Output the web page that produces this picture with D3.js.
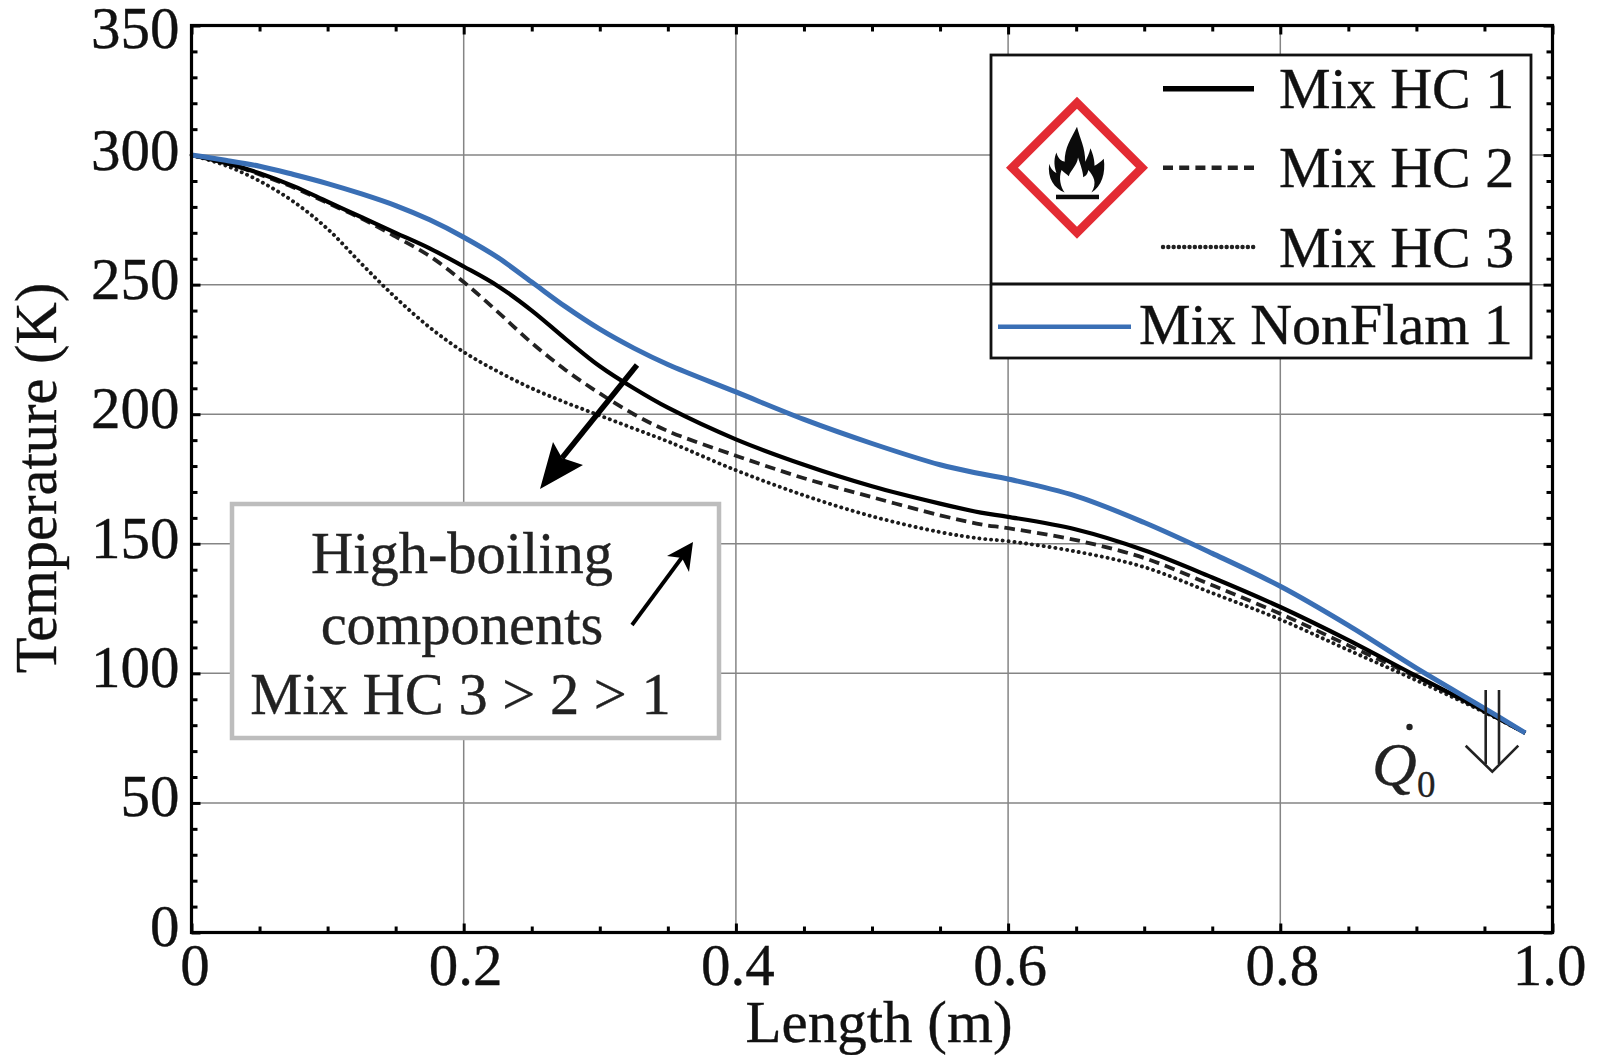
<!DOCTYPE html>
<html>
<head>
<meta charset="utf-8">
<script src="https://cdn.jsdelivr.net/npm/d3@7"></script>
<style>
html, body { margin: 0; padding: 0; background: #fff; }
svg { display: block; }
text { font-family: "Liberation Serif", serif; fill: #111; stroke: #111; stroke-width: 0.35; }
</style>
</head>
<body>
<div id="chart"></div>
<script>
var lengths = [0, 0.025, 0.05, 0.075, 0.1, 0.125, 0.15, 0.175, 0.2, 0.225, 0.25, 0.275, 0.3, 0.325, 0.35, 0.4, 0.45, 0.5, 0.55, 0.58, 0.6, 0.65, 0.7, 0.75, 0.8, 0.85, 0.9, 0.95, 0.98];
var mixHc1 =   [300, 297, 293, 288, 282, 276, 270, 264, 257, 249.5, 240, 229, 218.5, 210, 202.5, 190.3, 180.5, 172.2, 165.5, 162, 160.4, 155.5, 147.5, 137, 125.6, 112.8, 99, 85.5, 77];
var mixHc2 =   [300, 297, 292.5, 287.5, 281.5, 275.5, 268.5, 261, 251, 239.5, 227.5, 217, 208, 200, 193.5, 184, 175.3, 168, 161, 157.5, 156, 151.4, 144.5, 134, 123, 110.8, 98.6, 85.3, 77];
var mixHc3 =   [300, 296, 290, 282, 271.5, 258, 245, 233.5, 224, 216.5, 210, 204.5, 199.5, 194.5, 189.5, 178.4, 168.7, 160.6, 154.5, 152, 151, 147, 141, 131, 120.8, 109, 97.3, 85, 77];
var nonFlam1 = [300, 298, 295.7, 292.5, 289, 285, 280.5, 275, 268.3, 260.5, 251, 241.4, 232.8, 225.5, 219.2, 208.6, 198, 188.7, 180.5, 177, 175, 168.4, 158.2, 146.3, 133.6, 118.5, 102, 86.5, 77];

var xTicks = [0, 0.2, 0.4, 0.6, 0.8, 1.0];
var xTickLabels = ['0', '0.2', '0.4', '0.6', '0.8', '1.0'];
var xMinorTicks = d3.range(0, 1.0001, 0.05);
var yTicks = [0, 50, 100, 150, 200, 250, 300, 350];
var yMinorTicks = d3.range(0, 351, 10);
var noteLines = ['High-boiling', 'components', 'Mix HC 3 > 2 > 1'];
var legendNames = ['Mix HC 1', 'Mix HC 2', 'Mix HC 3'];

var width = 1597, height = 1055;
var left = 191.5, right = 1552.5, top_ = 25.5, bottom = 932.5;

var svg = d3.select('#chart').append('svg')
	.attr('width', width).attr('height', height);

var x = d3.scaleLinear().domain([0, 1]).range([left, right]);
var y = d3.scaleLinear().domain([0, 350]).range([bottom, top_]);
// the tick labels do not sit exactly on their ticks in the reference
var yLabel = d3.scaleLinear().domain([0, 300, 350]).range([925.5, 149.5, 28]);

function isMajor(list, d){
	return list.some(function(m){ return Math.abs(m - d) < 1e-6; });
}

// grid
var grid = svg.append('g').attr('stroke', '#858585').attr('stroke-width', 1.5);
grid.selectAll('.gx').data(xTicks.slice(1, -1)).enter().append('line')
	.attr('x1', function(d){ return x(d); }).attr('x2', function(d){ return x(d); })
	.attr('y1', top_).attr('y2', bottom);
grid.selectAll('.gy').data(yTicks.slice(1, -1)).enter().append('line')
	.attr('y1', function(d){ return y(d); }).attr('y2', function(d){ return y(d); })
	.attr('x1', left).attr('x2', right);

// ticks point inward on all four sides
function drawTicks(axis, translate, major, minor, attr, sign){
	var g = svg.append('g').attr('transform', 'translate(' + translate + ')');
	g.call(axis.tickValues(minor).tickFormat(''));
	g.select('.domain').remove();
	g.selectAll('.tick line')
		.attr('stroke', '#000').attr('stroke-width', 3)
		.attr(attr, function(d){ return sign * (isMajor(major, d) ? 9 : 6); });
}
drawTicks(d3.axisBottom(x), [0, bottom], xTicks, xMinorTicks, 'y2', -1);
drawTicks(d3.axisTop(x), [0, top_], xTicks, xMinorTicks, 'y2', 1);
drawTicks(d3.axisLeft(y), [left, 0], yTicks, yMinorTicks, 'x2', 1);
drawTicks(d3.axisRight(y), [right, 0], yTicks, yMinorTicks, 'x2', -1);

// curves
var line = d3.line()
	.x(function(d){ return x(d[0]); })
	.y(function(d){ return y(d[1]); })
	.curve(d3.curveCatmullRom.alpha(0.5));
function pts(vals){ return lengths.map(function(l, i){ return [l, vals[i]]; }); }
var seriesStyles = [
	{ vals: mixHc3, color: '#1c1c1c', w: 3.9, dash: '0.1 5.8', cap: 'round' },
	{ vals: mixHc2, color: '#222', w: 3.8, dash: '10.5 6', cap: 'butt' },
	{ vals: mixHc1, color: '#000', w: 4.2, dash: null, cap: 'butt' },
	{ vals: nonFlam1, color: '#3a6fb5', w: 5, dash: null, cap: 'butt' }
];
seriesStyles.forEach(function(s){
	svg.append('path')
		.attr('d', line(pts(s.vals)))
		.attr('fill', 'none')
		.attr('stroke', s.color)
		.attr('stroke-width', s.w)
		.attr('stroke-linecap', s.cap)
		.attr('stroke-dasharray', s.dash);
});

// frame
svg.append('rect')
	.attr('x', left).attr('y', top_)
	.attr('width', right - left).attr('height', bottom - top_)
	.attr('fill', 'none').attr('stroke', '#000').attr('stroke-width', 3.2);

// tick labels
svg.selectAll('.xl').data(xTicks).enter().append('text')
	.attr('x', function(d, i){ return x(d) + (i == 0 ? 3.5 : (i == 5 ? -3 : 2)); })
	.attr('y', 985)
	.attr('text-anchor', 'middle')
	.attr('font-size', 59)
	.text(function(d, i){ return xTickLabels[i]; });
svg.selectAll('.yl').data(yTicks).enter().append('text')
	.attr('x', 179.5)
	.attr('y', function(d){ return yLabel(d) + 20; })
	.attr('text-anchor', 'end')
	.attr('font-size', 59)
	.text(function(d){ return d; });

// axis titles
svg.append('text').attr('x', 879).attr('y', 1042)
	.attr('text-anchor', 'middle').attr('font-size', 59)
	.text('Length (m)');
svg.append('text')
	.attr('transform', 'translate(56,478) rotate(-90)')
	.attr('text-anchor', 'middle').attr('font-size', 58.5)
	.text('Temperature (K)');

// legend
var legend = svg.append('g');
legend.append('rect')
	.attr('x', 991).attr('y', 55).attr('width', 540).attr('height', 303)
	.attr('fill', '#fff').attr('stroke', '#111').attr('stroke-width', 2.8);
legend.append('line')
	.attr('x1', 991).attr('x2', 1531).attr('y1', 284).attr('y2', 284)
	.attr('stroke', '#111').attr('stroke-width', 2.8);
var legendY = [88.7, 167.7, 247];
var legendWidths = [5.5, 4.6, 4.4];
var legendDashes = [null, '10 6.2', '0.1 5.2'];
var legendCaps = ['butt', 'butt', 'round'];
legendNames.forEach(function(name, i){
	legend.append('line')
		.attr('x1', 1163).attr('x2', 1254)
		.attr('y1', legendY[i]).attr('y2', legendY[i])
		.attr('stroke', i == 0 ? '#000' : '#222')
		.attr('stroke-width', legendWidths[i])
		.attr('stroke-linecap', legendCaps[i])
		.attr('stroke-dasharray', legendDashes[i]);
	legend.append('text')
		.attr('x', 1279).attr('y', legendY[i] + 19.5)
		.attr('font-size', 58)
		.text(name);
});
legend.append('line')
	.attr('x1', 998).attr('x2', 1131).attr('y1', 326.7).attr('y2', 326.7)
	.attr('stroke', '#3a6fb5').attr('stroke-width', 4.4);
legend.append('text').attr('x', 1139).attr('y', 344)
	.attr('font-size', 58).text('Mix NonFlam 1');

// flammable pictogram
var pict = legend.append('g').attr('transform', 'translate(1077,167.7)');
pict.append('path')
	.attr('d', 'M0,-65 L65,0 L0,65 L-65,0 Z')
	.attr('fill', '#fff').attr('stroke', '#e32b33').attr('stroke-width', 8.5);
pict.append('path')
	.attr('transform', 'translate(0,-41) scale(1.03)')
	.attr('fill', '#0b0b0b')
	.attr('d', 'M-12,64 C-22,60 -29,50 -27,36 C-25,42 -22,44 -20,45 C-23,36 -22,30 -20,25 C-18,32 -15,33 -12,34 C-12,20 -6,12 0,0 C3,12 8,20 8,34 C10,30 12,26 13,21 C16,28 17,33 17,38 C20,36 23,34 26,31 C28,45 24,58 14,64 C20,54 16,48 11,42 C10,47 8,48 6,49 C6,44 3,36 1,30 C0,38 -6,42 -8,48 C-10,46 -12,45 -15,42 C-18,50 -16,58 -12,64 Z');
pict.append('rect').attr('x', -21).attr('y', 27).attr('width', 43).attr('height', 4.5).attr('fill', '#0b0b0b');

// note box
var note = svg.append('g');
note.append('rect')
	.attr('x', 232).attr('y', 504).attr('width', 487).attr('height', 234)
	.attr('fill', '#fff').attr('stroke', '#bdbdbd').attr('stroke-width', 4.5);
var noteX = [462, 462, 460.5], noteY = [573, 644, 714];
noteLines.forEach(function(t, i){
	note.append('text')
		.attr('x', noteX[i]).attr('y', noteY[i])
		.attr('text-anchor', 'middle')
		.attr('font-size', 58.5)
		.style('fill', '#222').style('stroke', '#222')
		.text(t);
});

// arrows
svg.append('line').attr('x1', 637).attr('y1', 365).attr('x2', 562).attr('y2', 458)
	.attr('stroke', '#000').attr('stroke-width', 5.5);
svg.append('path').attr('d', 'M540,489 L553,442 L562,458 L583,465 Z').attr('fill', '#000');
svg.append('line').attr('x1', 632).attr('y1', 625).attr('x2', 683).attr('y2', 556)
	.attr('stroke', '#000').attr('stroke-width', 3.8);
svg.append('path').attr('d', 'M693,542 L689,572 L682,558 L667,556 Z').attr('fill', '#000');

// heat removal marker
var heat = svg.append('g').attr('fill', 'none').attr('stroke', '#222').attr('stroke-width', 2.6);
heat.append('line').attr('x1', 1485.7).attr('x2', 1485.7).attr('y1', 690).attr('y2', 764);
heat.append('line').attr('x1', 1499).attr('x2', 1499).attr('y1', 690).attr('y2', 764);
heat.append('path').attr('d', 'M1465.7,745.7 L1492.3,771.7 L1518.3,745.7');
svg.append('text').attr('x', 1372).attr('y', 785)
	.attr('font-size', 62).attr('font-style', 'italic')
	.style('fill', '#222').style('stroke', '#222').text('Q');
svg.append('circle').attr('cx', 1409.5).attr('cy', 727).attr('r', 3.2).attr('fill', '#222');
svg.append('text').attr('x', 1417).attr('y', 797)
	.attr('font-size', 37)
	.style('fill', '#222').style('stroke', '#222').text('0');
</script>
</body>
</html>
